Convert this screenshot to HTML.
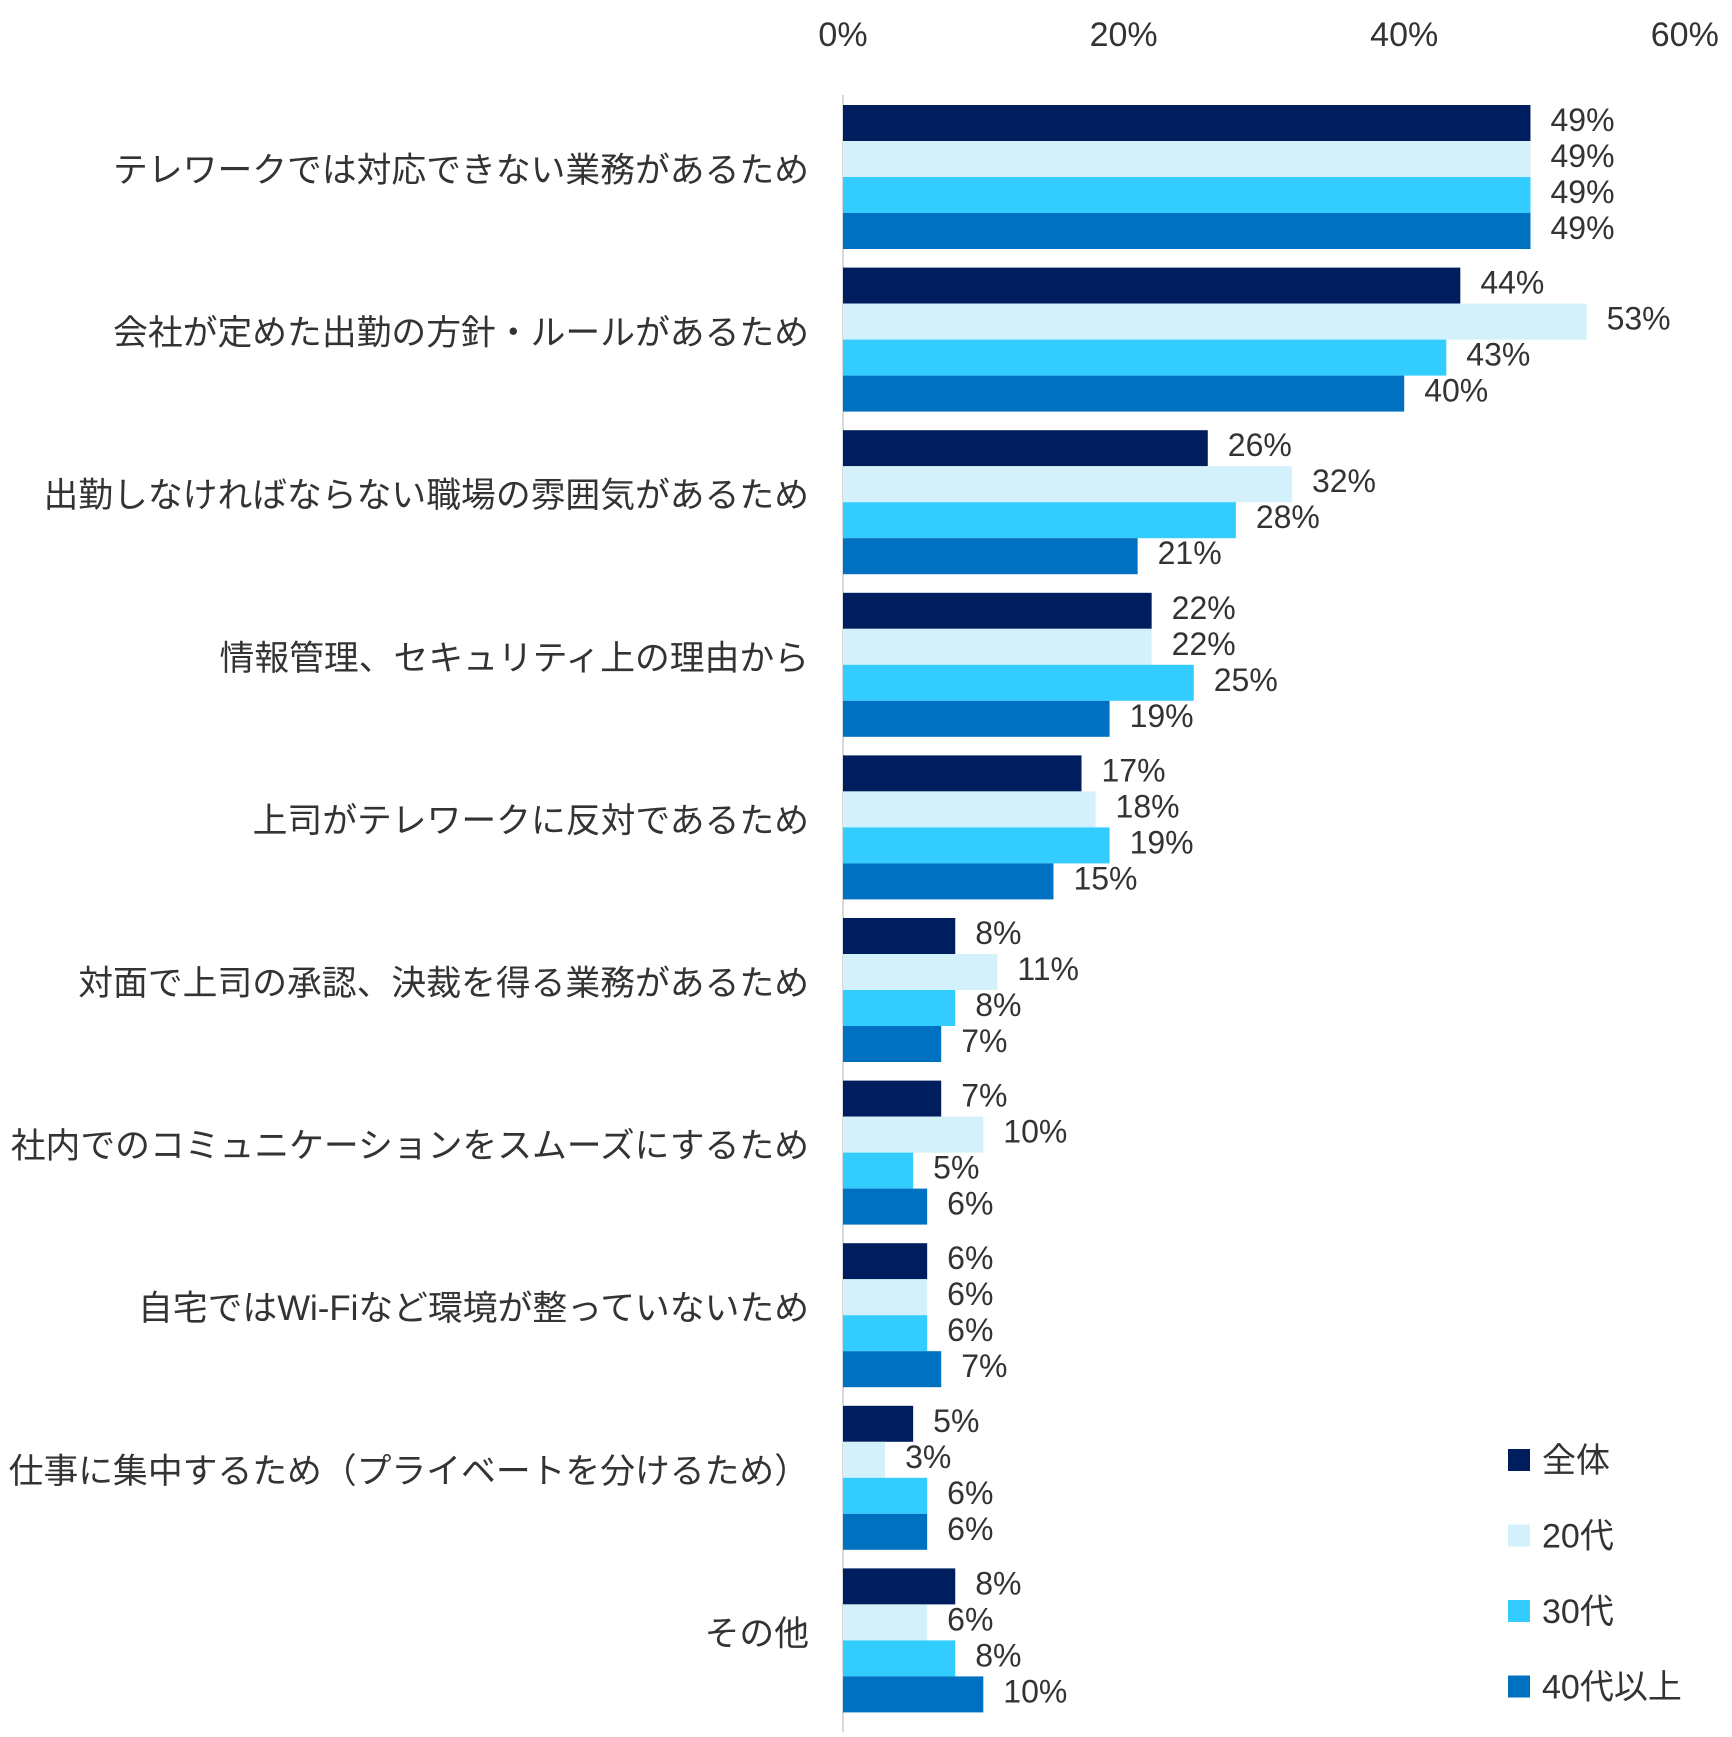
<!DOCTYPE html>
<html><head><meta charset="utf-8"><style>
body{margin:0;background:#fff}
svg text{font-family:"Liberation Sans","Noto Sans CJK JP",sans-serif;fill:#333}
</style></head><body>
<svg id="c" width="1732" height="1732" viewBox="0 0 1732 1732"></svg>
<script>
const categories=["テレワークでは対応できない業務があるため","会社が定めた出勤の方針・ルールがあるため","出勤しなければならない職場の雰囲気があるため","情報管理、セキュリティ上の理由から","上司がテレワークに反対であるため","対面で上司の承認、決裁を得る業務があるため","社内でのコミュニケーションをスムーズにするため","自宅ではWi-Fiなど環境が整っていないため","仕事に集中するため（プライベートを分けるため）","その他"];
const seriesNames=["全体","20代","30代","40代以上"];
const sAll=[49,44,26,22,17,8,7,6,5,8];
const s20=[49,53,32,22,18,11,10,6,3,6];
const s30=[49,43,28,25,19,8,5,6,6,8];
const s40=[49,40,21,19,15,7,6,7,6,10];
const ticks=[0,20,40,60];
const colors=["#001E5E","#D2F1FB","#33CCFF","#0070C0"];
const series=[sAll,s20,s30,s40];
const svg=document.getElementById('c');
const NS="http://www.w3.org/2000/svg";
const x0=843,pxPer=14.03,top0=105,pitch=162.6,bh=36;
const X=v=>x0+v*pxPer;
function mk(t,a,txt){const e=document.createElementNS(NS,t);for(const k in a)e.setAttribute(k,a[k]);if(txt!=null)e.textContent=txt;svg.appendChild(e);return e;}
ticks.forEach(t=>{const e=mk('text',{x:X(t),y:46,'font-size':34,'text-anchor':'middle'},t+'%');

});
const ax=mk('line',{x1:x0,y1:95,x2:x0,y2:1732,stroke:'#d9d9d9','stroke-width':2});


categories.forEach((c,i)=>{
 const gy=top0+i*pitch;
 const l=mk('text',{x:809,y:gy+72+5,'font-size':34.8,'text-anchor':'end'},c);
 
 
 series.forEach((s,j)=>{
  const y=gy+j*bh;
  const r=mk('rect',{x:x0,y:y,width:X(s[i])-x0,height:bh,fill:colors[j]});
  
  
  const t=mk('text',{x:X(s[i])+20,y:y+bh/2+8,'font-size':32},s[i]+'%');
  
  
 });
});
seriesNames.forEach((n,j)=>{
 const cy=1460+j*75.5;
 const r=mk('rect',{x:1508,y:cy-11,width:22,height:22,fill:colors[j]});
 
 
 const t=mk('text',{x:1542,y:cy+12,'font-size':34},n);
 
 
});
</script>
</body></html>
